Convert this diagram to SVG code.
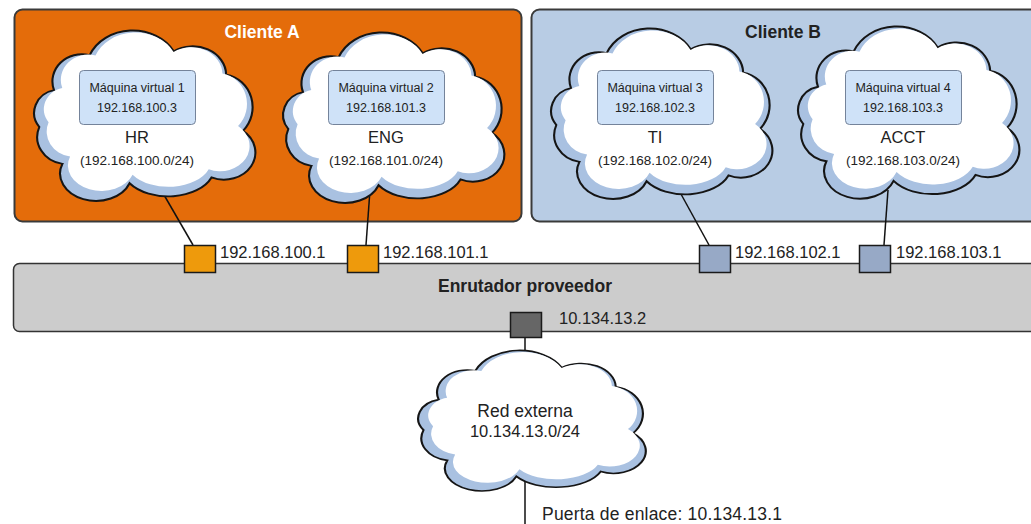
<svg xmlns="http://www.w3.org/2000/svg" xmlns:xlink="http://www.w3.org/1999/xlink" width="1031" height="524" viewBox="0 0 1031 524">
<style>
text{font-family:"Liberation Sans",Arial,Helvetica,sans-serif;fill:#222}
.title{font-size:17.5px;font-weight:bold}
.vm{font-size:12.5px;text-anchor:middle}
.net{font-size:16.5px;text-anchor:middle}
.sub{font-size:13.5px;text-anchor:middle}
.lbl{font-size:16.5px}
.cl-out{fill:#a9c1e1;stroke:#151515;stroke-width:2}
.cl-in{fill:#ffffff;stroke:none}
.vmbox{fill:#cfe2f8;stroke:#74839a;stroke-width:1}
.port{stroke:#1a1a1a;stroke-width:1.5}
.conn line{stroke:#111;stroke-width:1.5}
</style>
<defs>
<path id="cloud" d="M 28 62 A 28 28 0 0 1 62 26 A 44 40 0 0 1 142 22 A 32 30 0 0 1 192 46 A 30 34 0 0 1 208 104 A 30 28 0 0 1 178 152 A 44 30 0 0 1 100 158 A 34 28 0 0 1 36 138 A 28 28 0 0 1 14 100 A 24 24 0 0 1 28 62 Z"/>
</defs>

<g id="clienteA">
<rect x="14.5" y="9.5" width="507" height="212" rx="8" fill="#e46c0a" stroke="#3a3a3a" stroke-width="2"/>
<text class="title" x="262" y="38" text-anchor="middle" style="fill:#ffffff">Cliente A</text>
</g>
<g id="clienteB">
<rect x="531.5" y="9.5" width="512" height="212" rx="8" fill="#b8cce4" stroke="#3a3a3a" stroke-width="2"/>
<text class="title" x="783" y="38" text-anchor="middle">Cliente B</text>
</g>

<g id="router">
<rect x="13.5" y="263.5" width="1030" height="68" rx="6" fill="#cccccc" stroke="#333" stroke-width="1.5"/>
<text class="title" x="525" y="292" text-anchor="middle">Enrutador proveedor</text>
</g>

<g id="connectors" class="conn">
<line x1="160" y1="188" x2="193" y2="245"/>
<line x1="370" y1="190" x2="366" y2="245"/>
<line x1="676" y1="185" x2="709" y2="245"/>
<line x1="888" y1="190" x2="884" y2="245"/>
<line x1="525" y1="337" x2="525" y2="360"/>
<line x1="525" y1="480" x2="525" y2="524"/>
</g>

<g id="cloudHR">
<g transform="translate(24.6 30) scale(1.05 0.97)">
<use xlink:href="#cloud" class="cl-out"/>
<use xlink:href="#cloud" class="cl-in" transform="translate(114 84) scale(0.93) translate(-112 -88)"/>
</g>
<rect class="vmbox" x="79.5" y="70.5" width="116" height="54" rx="4"/>
<text class="vm" x="137" y="92">Máquina virtual 1</text>
<text class="vm" x="137" y="112">192.168.100.3</text>
<text class="net" x="137" y="143">HR</text>
<text class="sub" x="137" y="165">(192.168.100.0/24)</text>
</g>

<g id="cloudENG">
<g transform="translate(273.6 32) scale(1.05 0.97)">
<use xlink:href="#cloud" class="cl-out"/>
<use xlink:href="#cloud" class="cl-in" transform="translate(114 84) scale(0.93) translate(-112 -88)"/>
</g>
<rect class="vmbox" x="328.5" y="70.5" width="116" height="54" rx="4"/>
<text class="vm" x="386" y="92">Máquina virtual 2</text>
<text class="vm" x="386" y="112">192.168.101.3</text>
<text class="net" x="386" y="143">ENG</text>
<text class="sub" x="386" y="165">(192.168.101.0/24)</text>
</g>

<g id="cloudTI">
<g transform="translate(541.6 28) scale(1.05 0.97)">
<use xlink:href="#cloud" class="cl-out"/>
<use xlink:href="#cloud" class="cl-in" transform="translate(114 84) scale(0.93) translate(-112 -88)"/>
</g>
<rect class="vmbox" x="597.5" y="70.5" width="116" height="54" rx="4"/>
<text class="vm" x="655" y="92">Máquina virtual 3</text>
<text class="vm" x="655" y="112">192.168.102.3</text>
<text class="net" x="655" y="143">TI</text>
<text class="sub" x="655" y="165">(192.168.102.0/24)</text>
</g>

<g id="cloudACCT">
<g transform="translate(788.6 26) scale(1.05 0.98)">
<use xlink:href="#cloud" class="cl-out"/>
<use xlink:href="#cloud" class="cl-in" transform="translate(114 84) scale(0.93) translate(-112 -88)"/>
</g>
<rect class="vmbox" x="845.5" y="70.5" width="116" height="54" rx="4"/>
<text class="vm" x="903" y="92">Máquina virtual 4</text>
<text class="vm" x="903" y="112">192.168.103.3</text>
<text class="net" x="903" y="143">ACCT</text>
<text class="sub" x="903" y="165">(192.168.103.0/24)</text>
</g>

<g id="cloudExt">
<g transform="translate(408.4 350) scale(1.08 0.8)">
<use xlink:href="#cloud" class="cl-out"/>
<use xlink:href="#cloud" class="cl-in" transform="translate(114 84) scale(0.93) translate(-112 -88)"/>
</g>
<text class="net" x="525" y="417" style="font-size:17.5px">Red externa</text>
<text class="net" x="525" y="437">10.134.13.0/24</text>
</g>

<g id="port1">
<rect class="port" x="184.5" y="245.5" width="31" height="27" fill="#ee9a0c"/>
<text class="lbl" x="220" y="258">192.168.100.1</text>
</g>
<g id="port2">
<rect class="port" x="347.5" y="245.5" width="31" height="27" fill="#ee9a0c"/>
<text class="lbl" x="383" y="258">192.168.101.1</text>
</g>
<g id="port3">
<rect class="port" x="699.5" y="245.5" width="31" height="27" fill="#97a9c6"/>
<text class="lbl" x="735" y="258">192.168.102.1</text>
</g>
<g id="port4">
<rect class="port" x="859.5" y="245.5" width="31" height="27" fill="#97a9c6"/>
<text class="lbl" x="896" y="258">192.168.103.1</text>
</g>
<g id="port5">
<rect class="port" x="510.5" y="312.5" width="31" height="25" fill="#666666"/>
<text class="lbl" x="559" y="324">10.134.13.2</text>
</g>
<g id="gateway">
<text class="lbl" x="542" y="520" style="font-size:17.5px" textLength="240" lengthAdjust="spacing">Puerta de enlace: 10.134.13.1</text>
</g>
</svg>
